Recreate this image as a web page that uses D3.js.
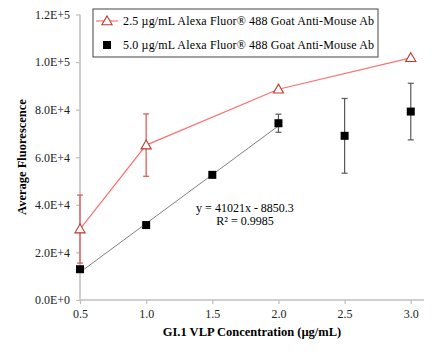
<!DOCTYPE html>
<html><head><meta charset="utf-8">
<script src="https://cdn.jsdelivr.net/npm/d3@7"></script>
<style>body{margin:0;background:#fff}svg{display:block}svg text{font-family:'Liberation Serif','DejaVu Serif',serif !important}</style>
</head><body>
<script>
const xTicks = [0.5, 1.0, 1.5, 2.0, 2.5, 3.0];
const yTicks = [0, 20000, 40000, 60000, 80000, 100000, 120000];
const redX = [0.5, 1.0, 2.0, 3.0];
const redY = [29800, 65100, 88600, 101800];
const redErr = [14300, 13100, 0, 0];
const blackX = [0.5, 1.0, 1.5, 2.0, 2.5, 3.0];
const blackY = [12950, 31500, 52600, 74300, 69000, 79200];
const blackErr = [0, 0, 0, 3800, 15700, 11900];
const trendSlope = 41021, trendIntercept = -8850.3, trendRange = [0.5, 2.0];
const legendLabels = ["2.5 µg/mL  Alexa Fluor® 488 Goat Anti-Mouse Ab", "5.0 µg/mL  Alexa Fluor® 488 Goat Anti-Mouse Ab"];

const W = 445, H = 354;
const SERIF = "'Liberation Serif', 'DejaVu Serif', serif";
const svg = d3.select("body").append("svg").attr("width", W).attr("height", H).style("font-family", SERIF);
const x = d3.scaleLinear().domain([0.5, 3.1]).range([80, 424]);
const y = d3.scaleLinear().domain([0, 120000]).range([300, 14.5]);
const axisColor = "#bfbfbf";
const fmt = v => v === 0 ? "0.0E+0" : (v / Math.pow(10, Math.floor(Math.log10(v)))).toFixed(1) + "E+" + Math.floor(Math.log10(v));

// axes
const gx = svg.append("g").attr("transform", "translate(0,300)")
  .call(d3.axisBottom(x).tickValues(xTicks).tickFormat(d3.format(".1f")).tickSize(4).tickPadding(5));
const gy = svg.append("g").attr("transform", "translate(80,0)")
  .call(d3.axisLeft(y).tickValues(yTicks).tickFormat(fmt).tickSize(4).tickPadding(6));
[gx, gy].forEach(g => {
  g.attr("font-family", SERIF);
  g.select(".domain").attr("stroke", axisColor).attr("stroke-width", 1.5);
  g.selectAll(".tick line").attr("stroke", axisColor).attr("stroke-width", 1.2);
  g.selectAll("text").attr("fill", "#222").attr("font-size", 12).style("font-family", SERIF);
});
gx.select(".domain").attr("d", "M80,0H424");
gy.select(".domain").attr("d", "M0,300V14.5");

svg.append("text").attr("x", 252).attr("y", 336).attr("text-anchor", "middle")
  .attr("font-weight", "bold").attr("font-size", 12.5).style("font-family", SERIF).text("GI.1 VLP Concentration (µg/mL)");
svg.append("text").attr("transform", "translate(26,157) rotate(-90)").attr("text-anchor", "middle")
  .attr("font-weight", "bold").attr("font-size", 12.5).style("font-family", SERIF).text("Average Fluorescence");

// trendline (black series)
svg.append("line")
  .attr("x1", x(trendRange[0])).attr("y1", y(trendSlope * trendRange[0] + trendIntercept))
  .attr("x2", x(trendRange[1])).attr("y2", y(trendSlope * trendRange[1] + trendIntercept))
  .attr("stroke", "#7f7f7f").attr("stroke-width", 1);

// error bars
function errBars(xs, ys, es, color) {
  xs.forEach((xv, i) => {
    if (!es[i]) return;
    const g = svg.append("g").attr("stroke", color).attr("stroke-width", 1.2);
    const cx = x(xv), t = y(ys[i] + es[i]), b = y(ys[i] - es[i]);
    g.append("line").attr("x1", cx).attr("x2", cx).attr("y1", t).attr("y2", b);
    g.append("line").attr("x1", cx - 3).attr("x2", cx + 3).attr("y1", t).attr("y2", t);
    g.append("line").attr("x1", cx - 3).attr("x2", cx + 3).attr("y1", b).attr("y2", b);
  });
}
errBars(blackX, blackY, blackErr, "#595959");
errBars(redX, redY, redErr, "#d9534f");

// red line
const redPts = redX.map((d, i) => [x(d), y(redY[i])]);
svg.append("path").attr("d", d3.line()(redPts)).attr("fill", "none").attr("stroke", "#ff7070").attr("stroke-width", 1.2);

const tri = d3.symbol().type(d3.symbolTriangle).size(45);
svg.selectAll(".tri").data(redPts).join("path")
  .attr("transform", d => `translate(${d[0]},${d[1] + 0.8})`).attr("d", tri)
  .attr("fill", "#fff").attr("stroke", "#c0392b").attr("stroke-width", 1.1);

svg.selectAll(".sq").data(blackX.map((d, i) => [x(d), y(blackY[i])])).join("rect")
  .attr("x", d => d[0] - 4).attr("y", d => d[1] - 4).attr("width", 8).attr("height", 8).attr("fill", "#000");

// equation
svg.append("text").attr("x", 245).attr("y", 212).attr("text-anchor", "middle").attr("font-size", 12).style("font-family", SERIF).text("y = 41021x - 8850.3");
svg.append("text").attr("x", 245).attr("y", 225).attr("text-anchor", "middle").attr("font-size", 12).style("font-family", SERIF).text("R² = 0.9985");

// legend
const lg = svg.append("g");
lg.append("rect").attr("x", 93).attr("y", 9).attr("width", 285).attr("height", 48).attr("fill", "#fff").attr("stroke", "#444").attr("stroke-width", 1);
lg.append("line").attr("x1", 96).attr("x2", 118).attr("y1", 21).attr("y2", 21).attr("stroke", "#ff7070").attr("stroke-width", 1.2);
lg.append("path").attr("transform", "translate(107,21.8)").attr("d", tri).attr("fill", "#fff").attr("stroke", "#c0392b").attr("stroke-width", 1.1);
lg.append("rect").attr("x", 103).attr("y", 41).attr("width", 8).attr("height", 8).attr("fill", "#000");
legendLabels.forEach((t, i) => {
  lg.append("text").attr("x", 123).attr("y", 25 + i * 24).attr("font-size", 12).style("font-family", SERIF)
    .attr("textLength", 251).attr("lengthAdjust", "spacing").text(t);
});
</script>
</body></html>
